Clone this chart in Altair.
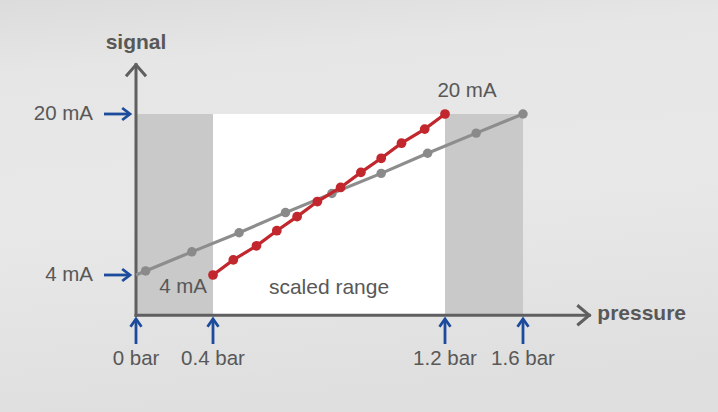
import altair as alt
import pandas as pd

# Tick values and their labels
pressure_ticks = [0.0, 0.4, 1.2, 1.6]
pressure_labels = ["0 bar", "0.4 bar", "1.2 bar", "1.6 bar"]
signal_ticks = [4, 20]
signal_labels = ["4 mA", "20 mA"]

# Full-range characteristic: 0 … 1.6 bar -> 4 … 20 mA
full_p = [0.05, 0.29, 0.49, 0.65, 0.81, 0.98, 1.14, 1.36, 1.60]
full_s = [4.4, 6.3, 8.2, 10.2, 12.1, 14.1, 16.1, 18.1, 20.0]

# Scaled characteristic: 0.4 … 1.2 bar -> 4 … 20 mA
scaled_p = [0.40, 0.47, 0.55, 0.62, 0.69, 0.76, 0.84, 0.91, 0.98, 1.05, 1.13, 1.20]
scaled_s = [4.0, 5.5, 6.9, 8.4, 9.8, 11.3, 12.7, 14.2, 15.6, 17.1, 18.5, 20.0]

# Background bands behind the characteristics
band_start = [0.0, 0.4, 1.2]
band_end = [0.4, 1.2, 1.6]
band_fill = ["#c9c9c9", "#ffffff", "#c9c9c9"]

# Extent of the drawn axis arrows
x_axis_end = 1.94
y_axis_end = 24.9

W, H = 718, 412
AXIS_GREY = "#5f5f5f"
TEXT_GREY = "#585858"
BLUE = "#1d4b9c"
FONT = "Liberation Sans"

# Schematic pressure axis: the scaled range is stretched (piecewise linear)
xs = alt.Scale(domain=pressure_ticks, range=[136, 213, 445, 523], zero=False, nice=False)
ys = alt.Scale(domain=signal_ticks, range=[275, 114], zero=False, nice=False)


def X(field, **kw):
    return alt.X(field, type="quantitative", scale=xs, axis=None, **kw)


def Y(field, **kw):
    return alt.Y(field, type="quantitative", scale=ys, axis=None, **kw)


one = alt.Data(values=[{}])

# soft grey backdrop
backdrop = alt.Chart(one).mark_rect(
    fill=alt.Gradient(
        gradient="linear",
        x1=0, x2=0.15, y1=0, y2=1,
        stops=[
            alt.GradientStop(offset=0.0, color="#dcdcdc"),
            alt.GradientStop(offset=0.18, color="#e6e6e6"),
            alt.GradientStop(offset=0.55, color="#e8e8e8"),
            alt.GradientStop(offset=1.0, color="#dfdfdf"),
        ],
    )
).encode(x=alt.value(0), x2=alt.value(W), y=alt.value(0), y2=alt.value(H))

bands_df = pd.DataFrame({"p0": band_start, "p1": band_end, "fill": band_fill,
                         "s0": [0] * 3, "s1": [signal_ticks[-1]] * 3})
bands = alt.Chart(bands_df).mark_rect().encode(
    x=X("p0"), x2="p1", y=Y("s0"), y2="s1",
    fill=alt.Fill("fill:N", scale=None),
)

# axis lines with open arrow heads
x_axis = alt.Chart(pd.DataFrame({"p0": [0.0], "p1": [x_axis_end], "s": [0]})).mark_rule(
    stroke=AXIS_GREY, strokeWidth=3, strokeCap="square"
).encode(x=X("p0"), x2="p1", y=Y("s"))
y_axis = alt.Chart(pd.DataFrame({"p": [0.0], "s0": [0], "s1": [y_axis_end]})).mark_rule(
    stroke=AXIS_GREY, strokeWidth=3, strokeCap="square"
).encode(x=X("p"), y=Y("s0"), y2="s1")

x_head = alt.Chart(pd.DataFrame({"p": [x_axis_end], "s": [0]})).mark_point(
    shape="M-1.2,-1L0,0L-1.2,1", size=400, filled=False, stroke=AXIS_GREY,
    strokeWidth=3, opacity=1, strokeJoin="miter"
).encode(x=X("p"), y=Y("s"))
y_head = alt.Chart(pd.DataFrame({"p": [0.0], "s": [y_axis_end]})).mark_point(
    shape="M-1,1.15L0,0L1,1.15", size=400, filled=False, stroke=AXIS_GREY,
    strokeWidth=3, opacity=1, strokeJoin="miter"
).encode(x=X("p"), y=Y("s"))

# full-range characteristic (grey)
full_line_df = pd.DataFrame({"p": [0.0] + full_p, "s": [signal_ticks[0]] + full_s})
full_pts_df = pd.DataFrame({"p": full_p, "s": full_s})
full_line = alt.Chart(full_line_df).mark_line(color="#8d8d8d", strokeWidth=3.2).encode(
    x=X("p"), y=Y("s"))
full_pts = alt.Chart(full_pts_df).mark_circle(color="#8a8a8a", size=90, opacity=1).encode(
    x=X("p"), y=Y("s"))

# scaled characteristic (red)
scaled_df = pd.DataFrame({"p": scaled_p, "s": scaled_s})
scaled_line = alt.Chart(scaled_df).mark_line(color="#c1272d", strokeWidth=3.2).encode(
    x=X("p"), y=Y("s"))
scaled_pts = alt.Chart(scaled_df).mark_circle(color="#c1272d", size=95, opacity=1).encode(
    x=X("p"), y=Y("s"))

# axis titles
sig_title = alt.Chart(pd.DataFrame({"p": [0.0], "s": [y_axis_end], "t": ["signal"]})).mark_text(
    font=FONT, fontSize=21, fontWeight="bold", color=TEXT_GREY, align="center",
    baseline="middle", dy=-22
).encode(x=X("p"), y=Y("s"), text="t:N")
pres_title = alt.Chart(pd.DataFrame({"p": [x_axis_end], "s": [0], "t": ["pressure"]})).mark_text(
    font=FONT, fontSize=21, fontWeight="bold", color=TEXT_GREY, align="left",
    baseline="middle", dx=8, dy=-1
).encode(x=X("p"), y=Y("s"), text="t:N")

# signal tick markers: blue arrows pointing at the axis, labels to the left
sig_df = pd.DataFrame({"s": signal_ticks, "t": signal_labels})
sig_shaft = alt.Chart(sig_df).mark_rule(stroke=BLUE, strokeWidth=2.8).encode(
    y=Y("s"), x=alt.value(104), x2=alt.value(130))
sig_head = alt.Chart(sig_df).mark_point(
    shape="M-1.3,-1L0,0L-1.3,1", size=144, filled=False, stroke=BLUE,
    strokeWidth=2.8, opacity=1
).encode(y=Y("s"), x=alt.value(130))
sig_text = alt.Chart(sig_df).mark_text(
    font=FONT, fontSize=20.5, color=TEXT_GREY, align="right", baseline="middle"
).encode(y=Y("s"), x=alt.value(93), text="t:N")

# pressure tick markers: blue arrows pointing up at the axis, labels below
pres_df = pd.DataFrame({"p": pressure_ticks, "t": pressure_labels})
pres_shaft = alt.Chart(pres_df).mark_rule(stroke=BLUE, strokeWidth=2.8).encode(
    x=X("p"), y=alt.value(344), y2=alt.value(319))
pres_head = alt.Chart(pres_df).mark_point(
    shape="M-1,1.4L0,0L1,1.4", size=121, filled=False, stroke=BLUE,
    strokeWidth=2.8, opacity=1
).encode(x=X("p"), y=alt.value(319))
pres_text = alt.Chart(pres_df).mark_text(
    font=FONT, fontSize=20.5, color=TEXT_GREY, align="center", baseline="middle"
).encode(x=X("p"), y=alt.value(359), text="t:N")

# annotations inside the diagram
ann_4 = alt.Chart(pd.DataFrame({"p": [scaled_p[0]], "s": [scaled_s[0]], "t": ["4 mA"]})).mark_text(
    font=FONT, fontSize=20.5, color=TEXT_GREY, align="right", baseline="middle", dx=-6, dy=12
).encode(x=X("p"), y=Y("s"), text="t:N")
ann_20 = alt.Chart(pd.DataFrame({"p": [scaled_p[-1]], "s": [scaled_s[-1]], "t": ["20 mA"]})).mark_text(
    font=FONT, fontSize=20.5, color=TEXT_GREY, align="center", baseline="middle", dx=22, dy=-23
).encode(x=X("p"), y=Y("s"), text="t:N")
ann_rng = alt.Chart(pd.DataFrame({"p": [0.8], "s": [scaled_s[0]], "t": ["scaled range"]})).mark_text(
    font=FONT, fontSize=21, color=TEXT_GREY, align="center", baseline="middle", dy=13
).encode(x=X("p"), y=Y("s"), text="t:N")

chart = alt.layer(
    backdrop, bands, x_axis, y_axis, x_head, y_head,
    full_line, full_pts, scaled_line, scaled_pts,
    sig_title, pres_title,
    sig_shaft, sig_head, sig_text,
    pres_shaft, pres_head, pres_text,
    ann_4, ann_20, ann_rng,
).properties(
    width=W, height=H, padding=0, autosize=alt.AutoSizeParams(type="none"),
    background="#e4e4e4",
).configure_view(stroke=None)

chart.save("out.html", embed_options={"renderer": "svg", "actions": False})
